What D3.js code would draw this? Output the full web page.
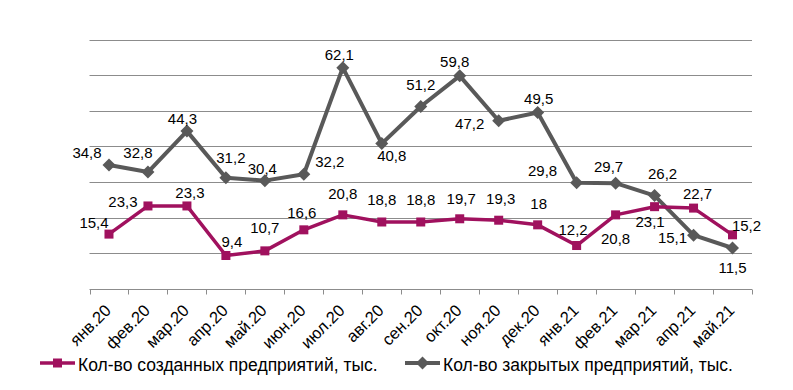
<!DOCTYPE html>
<html>
<head>
<meta charset="utf-8">
<script src="https://cdn.jsdelivr.net/npm/d3@7/dist/d3.min.js"></script>
<style>
  html, body { margin: 0; padding: 0; background: #ffffff; }
  svg { display: block; font-family: "Liberation Sans", Arial, sans-serif; }
</style>
</head>
<body>
<svg id="chart" width="793" height="390"></svg>
<script>
// ---- data ----
const categories = ["янв.20","фев.20","мар.20","апр.20","май.20","июн.20","июл.20","авг.20","сен.20","окт.20","ноя.20","дек.20","янв.21","фев.21","мар.21","апр.21","май.21"];
const createdValues = [15.4, 23.3, 23.3, 9.4, 10.7, 16.6, 20.8, 18.8, 18.8, 19.7, 19.3, 18, 12.2, 20.8, 23.1, 22.7, 15.2];
const closedValues  = [34.8, 32.8, 44.3, 31.2, 30.4, 32.2, 62.1, 40.8, 51.2, 59.8, 47.2, 49.5, 29.8, 29.7, 26.2, 15.1, 11.5];
const createdName = "Кол-во созданных предприятий, тыс.";
const closedName  = "Кол-во закрытых предприятий, тыс.";
const yTicks = [0, 10, 20, 30, 40, 50, 60, 70];

// ---- layout (label nudges relative to point: [dx, dy of baseline]) ----
const createdLabelNudge = [[-15,-6],[-25,1],[3,-8],[6,-8],[0,-18],[-2,-12],[0,-16],[0,-17],[0,-17],[1.5,-15],[2,-16],[1,-16],[-3.5,-11],[0,29],[-4.5,20],[4,-9],[14,-4]];
const closedLabelNudge  = [[-22,-7],[-10,-14],[-4.5,-7],[5,-15],[-2.5,-7],[26,-7],[-3.5,-8],[10,17],[0,-17],[-5,-9],[-29,8],[1,-9],[-34,-7],[-7,-11],[8,-17],[-21,8],[0,25]];

const createdColor = "#A0115E";
const closedColor = "#595959";
const gridColor = "#8C8C8C";

(function () {
const svg = d3.select("#chart");
const mLeft = 89.5, mRight = 752, mTop = 39.5, mBottom = 289;

const x = d3.scaleBand().domain(categories).range([mLeft, mRight]).padding(0);
const y = d3.scaleLinear().domain([0, 70]).range([mBottom, mTop]);
const cx = d => x(d) + x.bandwidth() / 2;

// gridlines
svg.append("g").selectAll("line").data(yTicks.filter(t => t > 0)).join("line")
  .attr("x1", mLeft).attr("x2", mRight)
  .attr("y1", d => Math.round(y(d)) + 0.5).attr("y2", d => Math.round(y(d)) + 0.5)
  .attr("stroke", gridColor).attr("stroke-width", 1);

// x axis
const xAxis = svg.append("g").attr("transform", `translate(0,${Math.round(mBottom) + 0.5})`);
xAxis.append("line").attr("x1", mLeft).attr("x2", mRight).attr("stroke", gridColor);
const bounds = categories.map(c => x(c)).concat([mRight]);
xAxis.selectAll("line.tick").data(bounds).join("line").attr("class", "tick")
  .attr("x1", d => Math.round(d) + 0.5).attr("x2", d => Math.round(d) + 0.5)
  .attr("y1", 0).attr("y2", 5).attr("stroke", gridColor);
xAxis.selectAll("text").data(categories).join("text")
  .attr("transform", d => `translate(${cx(d) + 3},${22}) rotate(-45)`)
  .attr("text-anchor", "end")
  .attr("font-size", 16.5)
  .attr("fill", "#000")
  .text(d => d);

const fmt = v => String(v).replace(".", ",");

const square = (g, px, py, color, s = 9) =>
  g.append("rect").attr("x", px - s / 2).attr("y", py - s / 2).attr("width", s).attr("height", s).attr("fill", color);
const diamond = (g, px, py, color, s = 6.5) =>
  g.append("path").attr("d", `M${px},${py - s}L${px + s},${py}L${px},${py + s}L${px - s},${py}Z`).attr("fill", color);

function drawSeries(values, color, width, markerFn, nudge) {
  const pts = categories.map((c, i) => [cx(c), y(values[i])]);
  svg.append("path").datum(pts)
    .attr("d", d3.line())
    .attr("fill", "none").attr("stroke", color)
    .attr("stroke-width", width).attr("stroke-linejoin", "round");
  const g = svg.append("g");
  pts.forEach(p => markerFn(g, p[0], p[1], color));
  svg.append("g").selectAll("text").data(values).join("text")
    .attr("x", (d, i) => pts[i][0] + nudge[i][0])
    .attr("y", (d, i) => pts[i][1] + nudge[i][1])
    .attr("text-anchor", "middle")
    .attr("font-size", 15)
    .attr("fill", "#000")
    .text(d => fmt(d));
}

drawSeries(closedValues, closedColor, 4, diamond, closedLabelNudge);
drawSeries(createdValues, createdColor, 3.5, square, createdLabelNudge);

// legend
const leg = svg.append("g");
const legendItems = [
  { name: createdName, color: createdColor, w: 3.5, m: square, x0: 40 },
  { name: closedName, color: closedColor, w: 4, m: diamond, x0: 405 }
];
legendItems.forEach(it => {
  const ly = 363;
  leg.append("line").attr("x1", it.x0).attr("x2", it.x0 + 35).attr("y1", ly).attr("y2", ly)
    .attr("stroke", it.color).attr("stroke-width", it.w);
  it.m(leg, it.x0 + 17.5, ly, it.color);
  leg.append("text").attr("x", it.x0 + 38).attr("y", ly + 7.5)
    .attr("font-size", 17.5).attr("fill", "#000").text(it.name);
});
})();
</script>
</body>
</html>
